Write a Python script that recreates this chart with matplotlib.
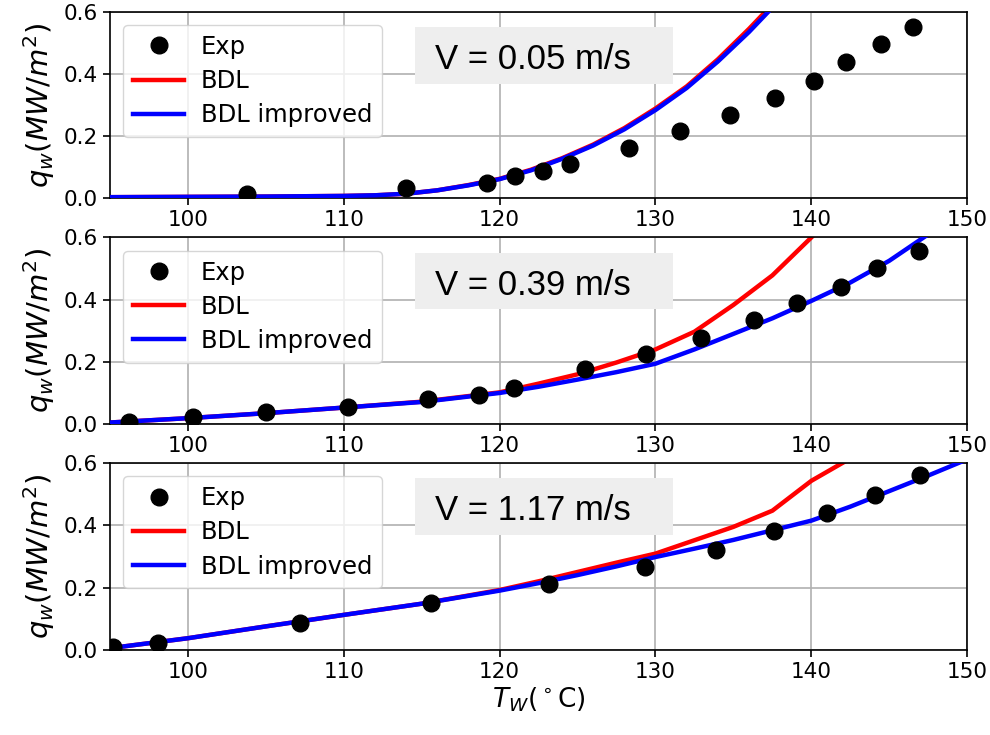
import matplotlib
matplotlib.use("Agg")
import matplotlib.pyplot as plt
from matplotlib.patches import Rectangle

# ---- data ----
speeds = ["V = 0.05 m/s", "V = 0.39 m/s", "V = 1.17 m/s"]

exp_T1 = [103.8, 114.0, 119.2, 121.0, 122.8, 124.5, 128.3, 131.6, 134.8, 137.7, 140.2, 142.2, 144.5, 146.5]
exp_q1 = [0.013, 0.035, 0.051, 0.073, 0.088, 0.111, 0.161, 0.216, 0.267, 0.322, 0.377, 0.440, 0.495, 0.552]

exp_T2 = [96.2, 100.3, 105.0, 110.3, 115.4, 118.7, 120.9, 125.5, 129.4, 132.9, 136.3, 139.1, 141.9, 144.2, 146.9]
exp_q2 = [0.008, 0.023, 0.040, 0.055, 0.080, 0.092, 0.117, 0.178, 0.225, 0.277, 0.333, 0.388, 0.441, 0.502, 0.555]

exp_T3 = [95.2, 98.1, 107.2, 115.6, 123.2, 129.3, 133.9, 137.6, 141.0, 144.1, 147.0]
exp_q3 = [0.008, 0.023, 0.087, 0.149, 0.210, 0.267, 0.320, 0.382, 0.438, 0.499, 0.561]

T_model1 = [95, 100, 105, 110, 112, 114, 116, 118, 120, 122, 124, 126, 128, 130, 132, 134, 136, 138]
bdl1 = [0.004, 0.005, 0.006, 0.008, 0.010, 0.015, 0.026, 0.043, 0.063, 0.092, 0.129, 0.173, 0.226, 0.289, 0.360, 0.447, 0.545, 0.650]
imp1 = [0.004, 0.005, 0.006, 0.008, 0.010, 0.015, 0.026, 0.042, 0.062, 0.090, 0.127, 0.170, 0.222, 0.284, 0.355, 0.440, 0.535, 0.640]

T_model23 = [95, 100, 105, 110, 115, 120, 122.5, 125, 127.5, 130, 132.5, 135, 137.5, 140, 142.5, 145, 147.5, 150]
bdl2 = [0.005, 0.019, 0.035, 0.053, 0.072, 0.102, 0.130, 0.160, 0.198, 0.240, 0.297, 0.383, 0.478, 0.600, 0.730, 0.870, 1.000, 1.150]
imp2 = [0.005, 0.019, 0.035, 0.053, 0.071, 0.100, 0.120, 0.143, 0.167, 0.194, 0.240, 0.290, 0.340, 0.396, 0.455, 0.525, 0.610, 0.700]

bdl3 = [0.005, 0.037, 0.075, 0.112, 0.148, 0.192, 0.220, 0.250, 0.280, 0.309, 0.352, 0.395, 0.447, 0.543, 0.615, 0.710, 0.800, 0.890]
imp3 = [0.005, 0.037, 0.075, 0.112, 0.148, 0.190, 0.214, 0.240, 0.268, 0.298, 0.325, 0.353, 0.384, 0.415, 0.460, 0.510, 0.560, 0.612]

xticks = [100, 110, 120, 130, 140, 150]
yticks = [0.0, 0.2, 0.4, 0.6]

panels = [
    (exp_T1, exp_q1, T_model1, bdl1, imp1, speeds[0]),
    (exp_T2, exp_q2, T_model23, bdl2, imp2, speeds[1]),
    (exp_T3, exp_q3, T_model23, bdl3, imp3, speeds[2]),
]

plt.rcParams['font.family'] = ['DejaVu Sans']
plt.rcParams['mathtext.fontset'] = 'dejavusans'

fig, axes = plt.subplots(3, 1, figsize=(9.9, 7.35), dpi=100)
fig.subplots_adjust(left=0.111, right=0.977, top=0.984, bottom=0.116, hspace=0.209)

for ax, (eT, eq, mT, bdl, imp, lab) in zip(axes, panels):
    ax.plot(eT, eq, 'o', color='black', ms=12, label='Exp', zorder=4)
    ax.plot(mT, bdl, '-', color='red', lw=3.2, label='BDL', zorder=2)
    ax.plot(mT, imp, '-', color='blue', lw=3.2, label='BDL improved', zorder=3)
    ax.set_xlim(95, 150)
    ax.set_ylim(0, 0.6)
    ax.set_xticks(xticks)
    ax.set_yticks(yticks)
    ax.set_yticklabels([f"{v:.1f}" for v in yticks])
    ax.tick_params(labelsize=15.5, length=5, width=1.2)
    for s in ax.spines.values():
        s.set_linewidth(1.2)
    ax.grid(True, color='#b0b0b0', lw=1.2)
    ax.set_axisbelow(True)
    ax.set_ylabel(r'$q_w(MW/m^2)$', fontsize=21, labelpad=5)
    leg = ax.legend(loc='upper left', fontsize=17.5, handlelength=2.1,
                    handletextpad=0.7, labelspacing=0.42, borderaxespad=0.55)
    ax.add_patch(Rectangle((0.356, 0.615), 0.301, 0.303, transform=ax.transAxes,
                           facecolor='#eeeeee', edgecolor='none', zorder=5))
    ax.text(0.379, 0.745, lab, transform=ax.transAxes, ha='left', va='center',
            fontsize=25, family='Liberation Sans', color='black', zorder=6)

axes[-1].set_xlabel(r'$T_W(^\circ$C)', fontsize=19, labelpad=3)

fig.savefig('out.png', dpi=100)
